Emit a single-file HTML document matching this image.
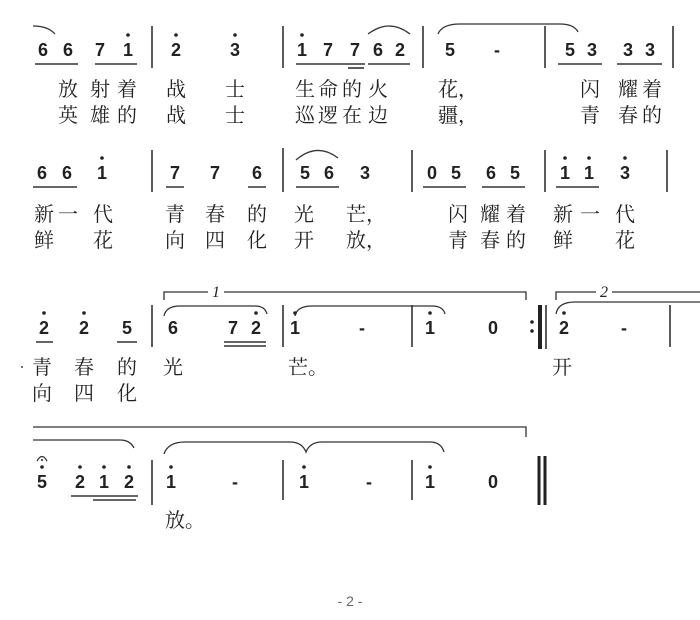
<!DOCTYPE html>
<html><head><meta charset="utf-8"><style>
html,body{margin:0;padding:0;background:#fff;}
svg{display:block}
.n{font-family:"Liberation Sans",sans-serif;font-weight:bold;font-size:18px;fill:#222;text-anchor:middle}
.l{font-family:"Liberation Serif","Noto Serif CJK SC",serif;font-size:20px;fill:#222;text-anchor:middle}
.b{stroke:#333;stroke-width:1.6}
.u{stroke:#333;stroke-width:1.6}
.s{fill:none;stroke:#333;stroke-width:1.3}
</style></head><body>
<svg width="700" height="620" viewBox="0 0 700 620" xmlns="http://www.w3.org/2000/svg">
<!-- ROW 1 -->
<path class="s" d="M33,26 Q48,26 55,34"/>
<g class="n">
<text x="43" y="56">6</text><text x="68" y="56">6</text>
<text x="100" y="56">7</text><text x="128" y="56">1</text>
<text x="176" y="56">2</text><text x="235" y="56">3</text>
<text x="302" y="56">1</text><text x="328" y="56">7</text><text x="355" y="56">7</text>
<text x="378" y="56">6</text><text x="400" y="56">2</text>
<text x="450" y="56">5</text><text x="497" y="56">-</text>
<text x="570" y="56">5</text><text x="592" y="56">3</text>
<text x="628" y="56">3</text><text x="650" y="56">3</text>
</g>
<g fill="#222"><circle cx="128" cy="35" r="1.8"/><circle cx="176" cy="35" r="1.8"/><circle cx="235" cy="35" r="1.8"/><circle cx="302" cy="35" r="1.8"/></g>
<g class="u">
<line x1="35" y1="64" x2="78" y2="64"/><line x1="95" y1="64" x2="137" y2="64"/>
<line x1="296" y1="64" x2="365" y2="64"/><line x1="348" y1="68" x2="364" y2="68"/>
<line x1="368" y1="64" x2="410" y2="64"/>
<line x1="558" y1="64" x2="602" y2="64"/><line x1="617" y1="64" x2="662" y2="64"/>
</g>
<g class="b">
<line x1="152" y1="26" x2="152" y2="68"/><line x1="283" y1="26" x2="283" y2="68"/>
<line x1="423" y1="26" x2="423" y2="68"/><line x1="545" y1="26" x2="545" y2="68"/>
<line x1="673" y1="26" x2="673" y2="68"/>
</g>
<path class="s" d="M368,34 Q389,18 410,34"/>
<path class="s" d="M438,34 Q442,24 460,24 L560,24 Q574,24 578,32"/>
<g class="l">
<text x="68" y="96">放</text><text x="100" y="96">射</text><text x="127" y="96">着</text>
<text x="176" y="96">战</text><text x="235" y="96">士</text>
<text x="305" y="96">生</text><text x="328" y="96">命</text><text x="352" y="96">的</text><text x="378" y="96">火</text>
<text x="458" y="96">花，</text>
<text x="590" y="96">闪</text><text x="628" y="96">耀</text><text x="652" y="96">着</text>
<text x="68" y="122">英</text><text x="100" y="122">雄</text><text x="127" y="122">的</text>
<text x="176" y="122">战</text><text x="235" y="122">士</text>
<text x="305" y="122">巡</text><text x="328" y="122">逻</text><text x="352" y="122">在</text><text x="378" y="122">边</text>
<text x="458" y="122">疆，</text>
<text x="590" y="122">青</text><text x="628" y="122">春</text><text x="652" y="122">的</text>
</g>

<!-- ROW 2 -->
<g class="n">
<text x="42" y="179">6</text><text x="67" y="179">6</text><text x="102" y="179">1</text>
<text x="175" y="179">7</text><text x="215" y="179">7</text><text x="257" y="179">6</text>
<text x="305" y="179">5</text><text x="329" y="179">6</text><text x="365" y="179">3</text>
<text x="432" y="179">0</text><text x="456" y="179">5</text><text x="491" y="179">6</text><text x="515" y="179">5</text>
<text x="565" y="179">1</text><text x="589" y="179">1</text><text x="625" y="179">3</text>
</g>
<g fill="#222"><circle cx="102" cy="158" r="1.8"/><circle cx="565" cy="158" r="1.8"/><circle cx="589" cy="158" r="1.8"/><circle cx="625" cy="158" r="1.8"/></g>
<g class="u">
<line x1="33" y1="187" x2="77" y2="187"/><line x1="166" y1="187" x2="184" y2="187"/>
<line x1="248" y1="187" x2="266" y2="187"/><line x1="296" y1="187" x2="339" y2="187"/>
<line x1="423" y1="187" x2="466" y2="187"/><line x1="482" y1="187" x2="525" y2="187"/>
<line x1="556" y1="187" x2="599" y2="187"/>
</g>
<g class="b">
<line x1="152" y1="150" x2="152" y2="192"/><line x1="283" y1="148" x2="283" y2="192"/>
<line x1="412" y1="150" x2="412" y2="192"/><line x1="545" y1="150" x2="545" y2="192"/>
<line x1="667" y1="150" x2="667" y2="192"/>
</g>
<path class="s" d="M296,160 Q317,142 338,158"/>
<g class="l">
<text x="44" y="221">新</text><text x="68" y="221">一</text><text x="103" y="221">代</text>
<text x="175" y="221">青</text><text x="215" y="221">春</text><text x="257" y="221">的</text>
<text x="304" y="221">光</text><text x="366" y="221">芒，</text>
<text x="458" y="221">闪</text><text x="490" y="221">耀</text><text x="516" y="221">着</text>
<text x="563" y="221">新</text><text x="590" y="221">一</text><text x="625" y="221">代</text>
<text x="44" y="247">鲜</text><text x="103" y="247">花</text>
<text x="175" y="247">向</text><text x="215" y="247">四</text><text x="257" y="247">化</text>
<text x="304" y="247">开</text><text x="366" y="247">放，</text>
<text x="458" y="247">青</text><text x="490" y="247">春</text><text x="516" y="247">的</text>
<text x="563" y="247">鲜</text><text x="625" y="247">花</text>
</g>

<!-- ROW 3 -->
<path class="s" d="M164,300 L164,292 L208,292 M224,292 L526,292 L526,300"/>
<text x="216" y="297" style="font-family:'Liberation Serif',serif;font-style:italic;font-size:16px;fill:#222;text-anchor:middle">1</text>
<path class="s" d="M556,300 L556,292 L596,292 M612,292 L700,292"/>
<text x="604" y="297" style="font-family:'Liberation Serif',serif;font-style:italic;font-size:16px;fill:#222;text-anchor:middle">2</text>
<path class="s" d="M164,316 Q166,306 180,306 L255,306 Q265,306 267,314"/>
<path class="s" d="M295,316 Q297,306 312,306 L432,306 Q443,306 445,314"/>
<path class="s" d="M556,314 Q558,302 575,302 L700,302"/>
<g class="n">
<text x="44" y="334">2</text><text x="84" y="334">2</text><text x="127" y="334">5</text>
<text x="173" y="334">6</text><text x="233" y="334">7</text><text x="256" y="334">2</text>
<text x="295" y="334">1</text><text x="362" y="334">-</text>
<text x="430" y="334">1</text><text x="493" y="334">0</text>
<text x="564" y="334">2</text><text x="624" y="334">-</text>
</g>
<g fill="#222"><circle cx="44" cy="313" r="1.8"/><circle cx="84" cy="313" r="1.8"/><circle cx="256" cy="313" r="1.8"/><circle cx="295" cy="313" r="1.8"/><circle cx="430" cy="313" r="1.8"/><circle cx="564" cy="313" r="1.8"/>
<circle cx="532" cy="322" r="1.8"/><circle cx="532" cy="331" r="1.8"/></g>
<g class="u">
<line x1="36" y1="342" x2="53" y2="342"/><line x1="117" y1="342" x2="137" y2="342"/>
<line x1="224" y1="342" x2="266" y2="342"/><line x1="224" y1="346" x2="266" y2="346"/>
</g>
<g class="b">
<line x1="152" y1="305" x2="152" y2="347"/><line x1="283" y1="305" x2="283" y2="347"/>
<line x1="412" y1="305" x2="412" y2="347"/><line x1="670" y1="305" x2="670" y2="347"/>
</g>
<line x1="540" y1="305" x2="540" y2="349" stroke="#222" stroke-width="4"/>
<line x1="546" y1="305" x2="546" y2="349" stroke="#222" stroke-width="1.5"/>
<g class="l">
<circle cx="22" cy="367" r="1" fill="#444"/>
<text x="42" y="374">青</text><text x="84" y="374">春</text><text x="127" y="374">的</text>
<text x="173" y="374">光</text><text x="308" y="374">芒。</text><text x="562" y="374">开</text>
<text x="42" y="400">向</text><text x="84" y="400">四</text><text x="127" y="400">化</text>
</g>

<!-- ROW 4 -->
<path class="s" d="M33,427 L526,427 L526,437"/>
<path class="s" d="M33,440 L120,440 Q130,440 134,448"/>
<path class="s" d="M164,454 Q168,442 185,442 L290,442 Q302,442 306,452 Q310,442 322,442 L430,442 Q441,442 444,452"/>
<g class="n">
<text x="42" y="488">5</text>
<text x="80" y="488">2</text><text x="104" y="488">1</text><text x="129" y="488">2</text>
<text x="171" y="488">1</text><text x="235" y="488">-</text>
<text x="304" y="488">1</text><text x="369" y="488">-</text>
<text x="430" y="488">1</text><text x="493" y="488">0</text>
</g>
<g fill="#222"><circle cx="42" cy="467" r="1.8"/><circle cx="80" cy="467" r="1.8"/><circle cx="104" cy="467" r="1.8"/><circle cx="129" cy="467" r="1.8"/><circle cx="171" cy="467" r="1.8"/><circle cx="304" cy="467" r="1.8"/><circle cx="430" cy="467" r="1.8"/>
<circle cx="42" cy="460" r="1"/></g>
<path class="s" d="M37,461 Q42,452 47,461" stroke-width="1"/>
<g class="u">
<line x1="71" y1="496" x2="138" y2="496"/><line x1="93" y1="500" x2="136" y2="500"/>
</g>
<g class="b">
<line x1="152" y1="460" x2="152" y2="505"/><line x1="283" y1="460" x2="283" y2="500"/>
<line x1="412" y1="460" x2="412" y2="500"/>
</g>
<line x1="539" y1="456" x2="539" y2="505" stroke="#222" stroke-width="3"/>
<line x1="545" y1="456" x2="545" y2="505" stroke="#222" stroke-width="3"/>
<text x="185" y="527" class="l">放。</text>

<text x="350" y="606" style="font-family:'Liberation Sans',sans-serif;font-size:14px;fill:#666;text-anchor:middle">- 2 -</text>
</svg>
</body></html>
